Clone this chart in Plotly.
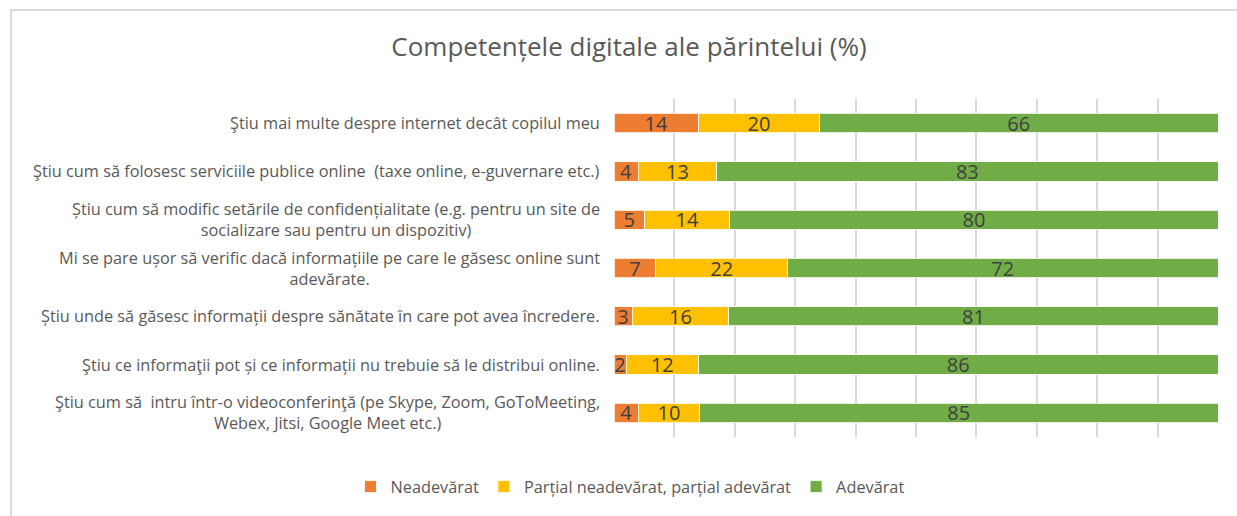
import plotly.graph_objects as go

categories = [
    "Ştiu mai multe despre internet decât copilul meu",
    "Ştiu cum să folosesc serviciile publice online  (taxe online, e-guvernare etc.)",
    "Știu cum să modific setările de confidențialitate (e.g. pentru un site de<br>socializare sau pentru un dispozitiv)",
    "Mi se pare ușor să verific dacă informațiile pe care le găsesc online sunt<br>adevărate.",
    "Știu unde să găsesc informații despre sănătate în care pot avea încredere.",
    "Ştiu ce informaţii pot și ce informații nu trebuie să le distribui online.",
    "Ştiu cum să  intru într-o videoconferinţă (pe Skype, Zoom, GoToMeeting,<br>Webex, Jitsi, Google Meet etc.)",
]
neadevarat = [14, 4, 5, 7, 3, 2, 4]
partial = [20, 13, 14, 22, 16, 12, 10]
adevarat = [66, 83, 80, 72, 81, 86, 85]

series = [
    ("Neadevărat", neadevarat, "#ED7D31"),
    ("Parțial neadevărat, parțial adevărat", partial, "#FFC000"),
    ("Adevărat", adevarat, "#70AD47"),
]

FONT = "Open Sans"
GREY = "#595959"

fig = go.Figure()
for name, vals, color in series:
    fig.add_trace(go.Bar(
        y=categories, x=vals, name=name, orientation="h",
        marker=dict(color=color, line=dict(color="white", width=0.8)),
        text=[str(v) for v in vals], textposition="inside",
        insidetextanchor="middle", textangle=0,
        textfont=dict(family=FONT, size=20, color="#404040"),
        hoverinfo="x+name",
    ))

# category labels as centred multi-line annotations
for cat in categories:
    fig.add_annotation(
        x=0, xref="paper", y=cat, yref="y", text=cat, showarrow=False,
        xanchor="right", align="center", xshift=-12,
        font=dict(family=FONT, size=16.3, color=GREY),
    )

# outer chart border (pixels -> paper coords of the 604x338 plot area)
fig.add_shape(type="rect", xref="paper", yref="paper",
              x0=(11 - 614) / 604, x1=(1260 - 614) / 604,
              y0=(437 - 540) / 338, y1=(437 - 10) / 338,
              line=dict(color="#D9D9D9", width=2), fillcolor="rgba(0,0,0,0)",
              layer="below")

fig.update_layout(
    width=1237, height=516,
    barmode="stack", barnorm="percent", bargap=0.6,
    margin=dict(l=614, r=19, t=99, b=79),
    paper_bgcolor="white", plot_bgcolor="white",
    title=dict(text="Competențele digitale ale părintelui (%)", x=629 / 1237, xanchor="center",
               y=1 - 47 / 516, yanchor="middle",
               font=dict(family=FONT, size=26, color=GREY)),
    xaxis=dict(range=[0, 100], dtick=10, showticklabels=False, showgrid=True,
               gridcolor="#D9D9D9", gridwidth=1.5, zeroline=False, fixedrange=True),
    yaxis=dict(autorange="reversed", showticklabels=False, showgrid=False, zeroline=False),
    uniformtext=dict(minsize=20, mode="show"),
    legend=dict(orientation="h", x=630 / 1237, xanchor="center", xref="container",
                y=1 - 487 / 516, yref="container", yanchor="middle",
                font=dict(family=FONT, size=16.3, color=GREY), itemwidth=30,
                traceorder="normal"),
    showlegend=True,
)

fig.write_html("out.html", config={"displayModeBar": False},
               post_script="document.body.style.margin='0';")
